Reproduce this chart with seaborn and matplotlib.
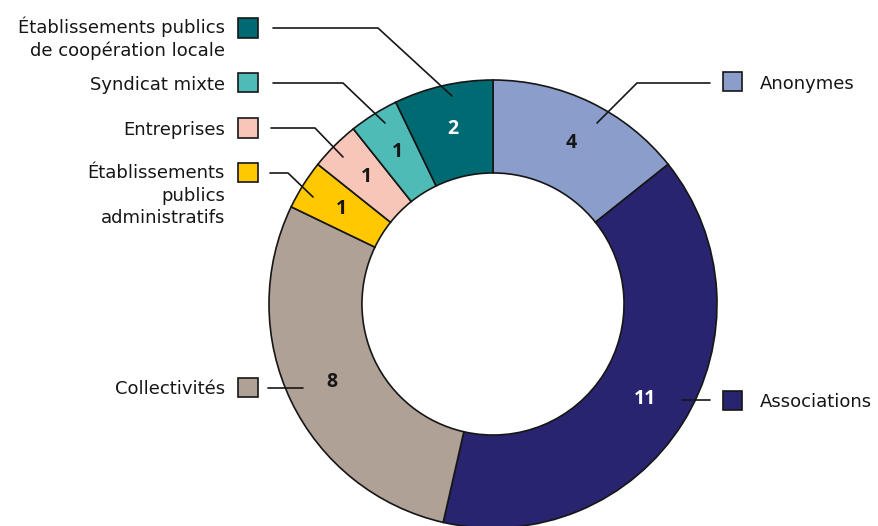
import matplotlib
matplotlib.use("Agg")
import matplotlib.pyplot as plt
import seaborn as sns
from matplotlib.patches import Rectangle
import numpy as np

categories = ["Anonymes", "Associations", "Collectivités",
              "Établissements\npublics\nadministratifs", "Entreprises",
              "Syndicat mixte", "Établissements publics\nde coopération locale"]
values = [4, 11, 8, 1, 1, 1, 2]
colors = ["#8A9DCB", "#29246F", "#B0A197", "#FFC800", "#F8C6B8", "#4EBBB6", "#006A73"]
value_colors = ["#161616", "white", "#161616", "#161616", "#161616", "#161616", "white"]

sns.set_theme(style="white")
plt.rcParams['font.family'] = ['DejaVu Sans']

W, H = 879, 526
CX, CY, R = 493, 304, 224

fig = plt.figure(figsize=(W / 100, H / 100), dpi=100)
ax = fig.add_axes([0, 0, 1, 1])

wedges, _ = ax.pie(values, colors=colors, startangle=90, counterclock=False,
                   radius=1.0,
                   wedgeprops=dict(width=0.415, edgecolor="#161616", linewidth=1.2))
ax.set_aspect('auto')
ax.set_xlim(-CX / R, (W - CX) / R)
ax.set_ylim(-(H - CY) / R, CY / R)
ax.axis('off')


def P(px, py):
    return ((px - CX) / R, (CY - py) / R)


# value labels
for w, v, tc in zip(wedges, values, value_colors):
    ang = np.deg2rad((w.theta1 + w.theta2) / 2)
    r = 0.80
    ax.text(r * np.cos(ang), r * np.sin(ang), str(v), ha='center', va='center',
            fontsize=14, fontweight='bold', color=tc, family=['Open Sans', 'DejaVu Sans'])

# legend entries: square centre (px), text side, leader polyline (px)
squares = [(733, 82), (733, 400), (248, 387), (248, 173), (248, 128), (248, 83), (248, 28)]
sides = ['right', 'right', 'left', 'left', 'left', 'left', 'left']
leaders = [
    [(710, 83), (637, 83), (597, 123)],
    [(710, 400), (682, 400)],
    [(268, 388), (303, 388)],
    [(270, 173), (288, 173), (313, 197)],
    [(271, 128), (315, 128), (343, 157)],
    [(273, 83), (343, 83), (385, 123)],
    [(273, 28), (378, 28), (452, 96)],
]

sq = 19
for (sx, sy), side, pts, lab, col in zip(squares, sides, leaders, categories, colors):
    x0, y0 = P(sx - sq / 2, sy + sq / 2)
    ax.add_patch(Rectangle((x0, y0), sq / R, sq / R, facecolor=col,
                           edgecolor="#161616", linewidth=1.2, zorder=5))
    xs, ys = zip(*[P(*p) for p in pts])
    ax.plot(xs, ys, color="#161616", linewidth=1.2, zorder=6)
    lines = lab.split("\n")
    if side == 'right':
        tx, ty = P(760, sy + 7)
        ax.text(tx, ty, lab, ha='left', va='baseline', fontsize=13, color="#161616")
    elif len(lines) == 1:
        tx, ty = P(225, sy + 7)
        ax.text(tx, ty, lab, ha='right', va='baseline', fontsize=13, color="#161616")
    else:
        for i, ln in enumerate(lines):
            tx, ty = P(225, sy + 5.5 + 22.5 * i)
            ax.text(tx, ty, ln, ha='right', va='baseline', fontsize=13, color="#161616")

fig.savefig("out.png", dpi=100)
